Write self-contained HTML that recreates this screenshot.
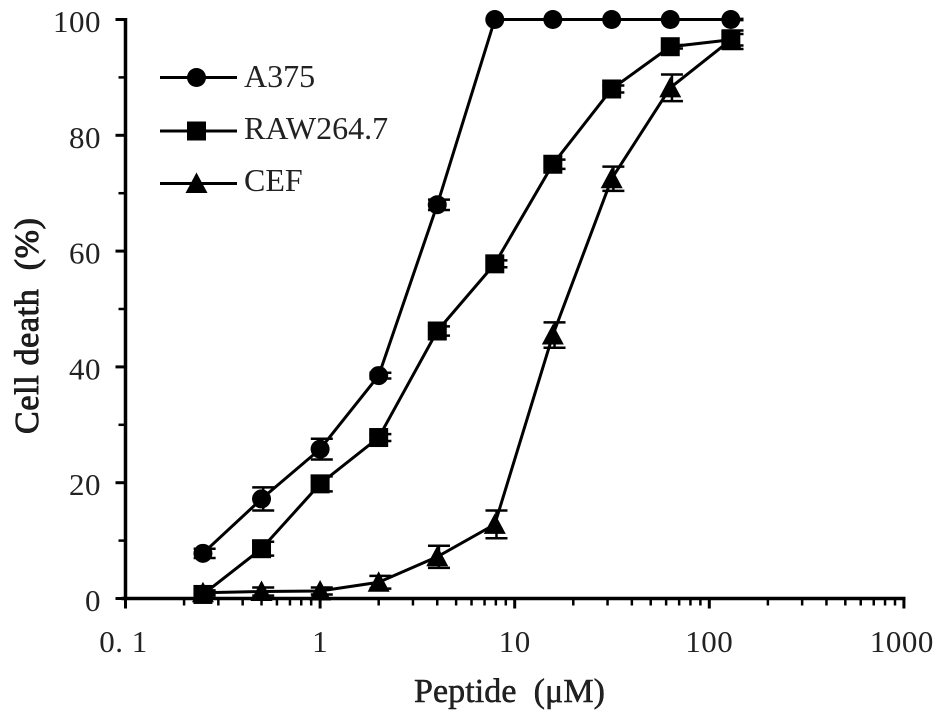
<!DOCTYPE html>
<html>
<head>
<meta charset="utf-8">
<title>Cell death vs peptide concentration</title>
<style>
html,body{margin:0;padding:0;background:#fff;}
svg{display:block;}
text{font-family:"Liberation Serif","Noto Serif CJK SC",serif;fill:#222;}
</style>
</head>
<body>
<svg id="chart" width="945" height="720" viewBox="0 0 945 720" xmlns="http://www.w3.org/2000/svg"></svg>
<script>
const concentrations = [0.25, 0.5, 1, 2, 4, 7.9, 15.7, 31.5, 63, 129];
const a375Values = [7.8, 17.2, 25.8, 38.5, 68, 100, 100, 100, 100, 100];
const a375Errors = [0.8, 2.0, 1.8, 0.5, 0.9, 0, 0, 0, 0, 0.1];
const rawValues = [0.7, 8.6, 19.8, 27.8, 46.2, 57.8, 75, 88, 95.3, 96.5];
const rawErrors = [0.5, 1.2, 1.3, 0.6, 0.8, 0.6, 0.8, 0.6, 0.3, 1.6];
const cefValues = [1, 1.2, 1.3, 2.8, 7.2, 12.8, 45.5, 72.5, 88.2, 96.5];
const cefErrors = [0.4, 0.7, 0.6, 1.1, 1.9, 2.4, 2.2, 2.1, 2.3, 1];
const yTickValues = [0, 20, 40, 60, 80, 100];
const yMinorValues = [10, 30, 50, 70, 90];
const xTickValues = [0.1, 1, 10, 100, 1000];
const xTickLabels = ['0. 1', '1', '10', '100', '1000'];
const xMinorMultipliers = [2, 3, 4, 5, 6, 7, 8, 9];
const seriesNames = ['A375', 'RAW264.7', 'CEF'];

const NS = 'http://www.w3.org/2000/svg';
const svg = document.getElementById('chart');
const X0 = 125.5, DECADE = 194.6, Y0 = 598.5, YUNIT = 5.79;
function xScale(v) { return X0 + (Math.log10(v) + 1) * DECADE; }
function yScale(v) { return Y0 - v * YUNIT; }

function make(tag, props, parent) {
  const el = document.createElementNS(NS, tag);
  for (const k in props) el.setAttribute(k, props[k]);
  (parent || svg).appendChild(el);
  return el;
}
function line(x1, y1, x2, y2, w, parent) {
  return make('line', { x1: x1, y1: y1, x2: x2, y2: y2, stroke: '#000', 'stroke-width': w }, parent);
}
function marker(kind, cx, cy, parent) {
  if (kind === 0) return make('circle', { cx: cx, cy: cy, r: 9.5, fill: '#000' }, parent);
  if (kind === 1) return make('rect', { x: cx - 9.5, y: cy - 9.5, width: 19, height: 19, fill: '#000' }, parent);
  return make('polygon', { points: (cx - 11) + ',' + (cy + 9.5) + ' ' + (cx + 11) + ',' + (cy + 9.5) + ' ' + cx + ',' + (cy - 11), fill: '#000' }, parent);
}

// Axes
const xAxis = line(X0 - 4, Y0, 905.5, Y0, 3.5);


const yAxis = line(X0, 18, X0, Y0 + 1.5, 3.5);



yTickValues.forEach(function (v) {
  const tick = line(X0 - 10, yScale(v), X0, yScale(v), 3);
  
  
  const label = make('text', { x: 101, y: yScale(v) + 12.5, 'text-anchor': 'end', 'font-size': 31, 'letter-spacing': 0.5 });
  label.textContent = String(v);
  
  
});
yMinorValues.forEach(function (v) {
  const tick = line(X0 - 7, yScale(v), X0, yScale(v), 2.5);
  
  
});
xTickValues.forEach(function (v, i) {
  const tick = line(xScale(v), Y0, xScale(v), Y0 + 10, 3);
  
  
  const label = make('text', { x: xScale(v) - (i === 0 ? 2 : 0) - (i === 4 ? 2 : 0), y: 652, 'text-anchor': 'middle', 'font-size': 31, 'letter-spacing': 0.5 });
  label.textContent = xTickLabels[i];
  label.setAttribute('xml:space', 'preserve');
  
  
  if (i < xTickValues.length - 1) {
    xMinorMultipliers.forEach(function (m) {
      const minor = line(xScale(v * m), Y0, xScale(v * m), Y0 + 7, 2.5);
      
      
    });
  }
});

// Axis titles
const xTitle = make('text', { x: 414, y: 702, 'font-size': 34, stroke: '#111', 'stroke-width': 0.5, textLength: 191, lengthAdjust: 'spacing' });
xTitle.textContent = 'Peptide\u00A0 (\u03BCM)';


const yTitle = make('text', { transform: 'translate(38,326) rotate(-90)', 'text-anchor': 'middle', 'font-size': 34, stroke: '#111', 'stroke-width': 0.9, textLength: 216, lengthAdjust: 'spacing' });
yTitle.textContent = 'Cell death\u00A0 (%)';



// Series: caps sit slightly right of the marker centre, as in the reference
const CAP_SHIFT = 1.7, CAP_HALF = 11;
function drawSeries(kind, values, errors, name) {
  const g = make('g', {});
  
  
  const pts = concentrations.map(function (c, i) { return xScale(c) + ',' + yScale(values[i]); }).join(' ');
  make('polyline', { points: pts, fill: 'none', stroke: '#000', 'stroke-width': 3 }, g);
  concentrations.forEach(function (c, i) {
    const x = xScale(c), bx = x + CAP_SHIFT, hi = yScale(values[i] + errors[i]), lo = yScale(values[i] - errors[i]);
    if (errors[i] > 0) {
      line(bx, hi, bx, lo, 2.5, g);
      line(bx - CAP_HALF, hi, bx + CAP_HALF, hi, 2.5, g);
      line(bx - CAP_HALF, lo, bx + CAP_HALF, lo, 2.5, g);
    }
    marker(kind, x, yScale(values[i]), g);
  });
}
drawSeries(2, cefValues, cefErrors, 'series-cef');
drawSeries(1, rawValues, rawErrors, 'series-raw264-7');
drawSeries(0, a375Values, a375Errors, 'series-a375');

// Legend
const legendRows = [77.5, 131, 183.5];
const legendBaselines = [87, 139, 191];
seriesNames.forEach(function (name, i) {
  const g = make('g', {});
  
  
  line(160, legendRows[i], 237, legendRows[i], 3, g);
  marker(i, 196.5, legendRows[i], g);
  const label = make('text', { x: 244, y: legendBaselines[i], 'font-size': 32 }, g);
  label.textContent = name;
  
  
});
</script>
</body>
</html>
